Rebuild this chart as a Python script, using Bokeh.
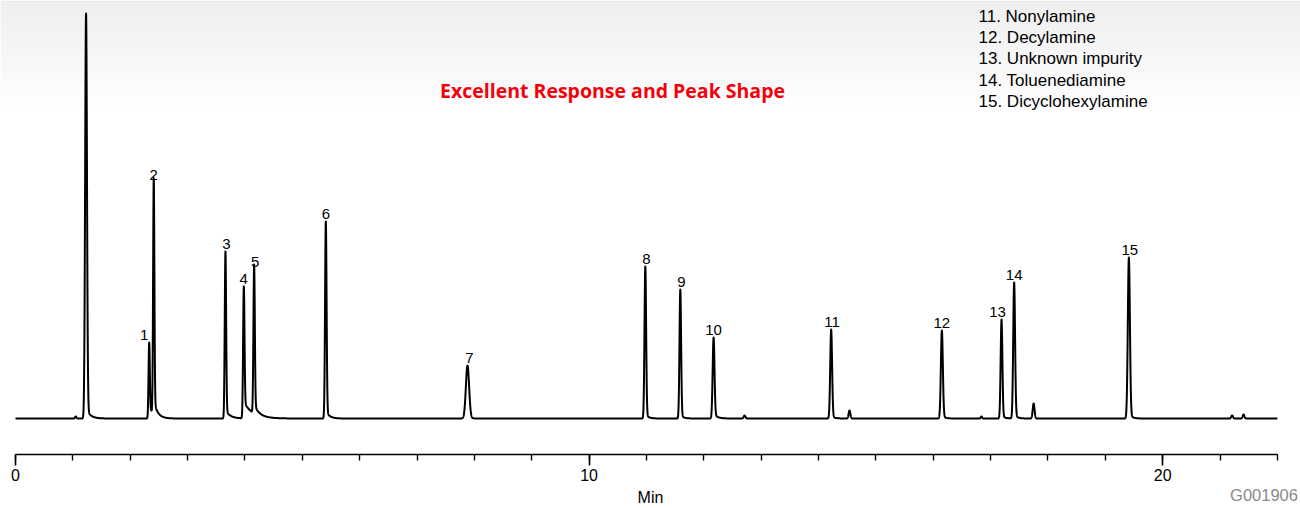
import numpy as np
from bokeh.plotting import figure
from bokeh.models import Range1d, FixedTicker, Label, BoxAnnotation, ColumnDataSource, LinearAxis
from bokeh.core.properties import value
from bokeh.embed import file_html
from bokeh.resources import INLINE

# ---------------- data ----------------
peak_labels = ["1", "2", "3", "4", "5", "6", "7", "8", "9", "10", "11", "12", "13", "14", "15"]
peak_rt = [2.33, 2.41, 3.66, 3.98, 4.16, 5.41, 7.88, 10.98, 11.59, 12.17, 14.22, 16.15, 17.19, 17.41, 19.41]
peak_height = [76, 236, 167, 132, 149, 197, 53, 152, 129, 81, 89, 88, 99, 136, 161]
peak_sigma = [0.011, 0.011, 0.012, 0.012, 0.012, 0.013, 0.028, 0.014, 0.014, 0.016, 0.016, 0.017, 0.015, 0.016, 0.018]
peak_tail_frac = [0.15, 0.06, 0.05, 0.12, 0.06, 0.04, 0.02, 0.03, 0.03, 0.06, 0.03, 0.03, 0.03, 0.03, 0.03]
peak_tail_tau = [0.08, 0.06, 0.08, 0.15, 0.08, 0.06, 0.05, 0.05, 0.05, 0.06, 0.05, 0.05, 0.05, 0.05, 0.05]

# unlabelled peaks: solvent front and small impurities
other_rt = [1.05, 1.23, 12.71, 14.54, 16.84, 17.75, 21.21, 21.41]
other_height = [2, 405, 3, 8, 2, 15, 3, 4]
other_sigma = [0.012, 0.016, 0.015, 0.015, 0.012, 0.016, 0.015, 0.015]
other_tail_frac = [0.0, 0.025, 0.0, 0.0, 0.0, 0.0, 0.0, 0.0]
other_tail_tau = [0.05, 0.07, 0.05, 0.05, 0.05, 0.05, 0.05, 0.05]

legend_numbers = ["11.", "12.", "13.", "14.", "15."]
legend_names = ["Nonylamine", "Decylamine", "Unknown impurity", "Toluenediamine", "Dicyclohexylamine"]

x_ticks = [0, 10, 20]
x_minor_ticks = list(range(0, 23))
run_end = 22.0

title_text = "Excellent Response and Peak Shape"
x_label = "Min"
code_text = "G001906"

# ---------------- build trace ----------------
t = np.arange(0.0, run_end + 1e-9, 0.002)


def peak_shape(tt, rt, h, s, a, tau):
    d = tt - rt
    core = np.exp(-0.5 * (d / s) ** 2)
    step = 1.0 / (1.0 + np.exp(-np.clip(2.0 * d / s, -60, 60)))
    tail = np.exp(-np.clip(d, 0, None) / tau) * step
    y = (1 - a) * core + a * tail
    return h * y / y.max()


signal = np.zeros_like(t)
for rt, h, s, a, tau in zip(peak_rt, peak_height, peak_sigma, peak_tail_frac, peak_tail_tau):
    signal += peak_shape(t, rt, h, s, a, tau)
for rt, h, s, a, tau in zip(other_rt, other_height, other_sigma, other_tail_frac, other_tail_tau):
    signal += peak_shape(t, rt, h, s, a, tau)

# ---------------- figure ----------------
W, H = 1300, 508
PX_PER_MIN = 57.36
X0 = 15          # pixel of t = 0
BASE = 418       # pixel of the baseline
FRAME_BOTTOM = 454

p = figure(
    width=W, height=H,
    output_backend="svg", toolbar_location=None,
    x_range=Range1d(-X0 / PX_PER_MIN, (W - X0) / PX_PER_MIN),
    y_range=Range1d(-(FRAME_BOTTOM - BASE), BASE),
    min_border_left=0, min_border_right=0, min_border_top=0,
    min_border_bottom=H - FRAME_BOTTOM,
)
p.outline_line_color = None
p.background_fill_color = "white"
p.border_fill_color = "white"
p.xgrid.visible = False
p.ygrid.visible = False
p.yaxis.visible = False

# soft grey gradient at the top
steps = 55
for i in range(steps):
    y0 = i * 2
    g = int(round(236 + (255 - 236) * (y0 / (steps * 2))))
    col = "#%02x%02x%02x" % (g, g, g)
    p.add_layout(BoxAnnotation(top=BASE - y0, bottom=BASE - y0 - 2, fill_color=col, fill_alpha=1.0,
                               line_color=None, level="underlay"))

# main time axis: ticks and tick labels
ax = p.xaxis[0]
ax.bounds = (0, run_end)
ax.ticker = FixedTicker(ticks=x_ticks, minor_ticks=x_minor_ticks)
ax.axis_line_color = "black"
ax.axis_line_width = 1.6
ax.major_tick_line_color = "black"
ax.major_tick_line_width = 1.6
ax.minor_tick_line_color = "black"
ax.minor_tick_line_width = 1.4
ax.major_tick_out = 11
ax.major_tick_in = 0
ax.minor_tick_out = 6
ax.minor_tick_in = 0
ax.major_label_standoff = 3
ax.major_label_text_font = "Liberation Sans"
ax.major_label_text_font_size = "16px"
ax.major_label_text_color = "black"

# second row under the axis: axis title "Min" and the figure code at the right
code_pos = (1263.5 - X0) / PX_PER_MIN
ax2 = LinearAxis(
    ticker=FixedTicker(ticks=[code_pos], minor_ticks=[]),
    major_label_overrides={code_pos: code_text},
    axis_line_color=None,
    major_tick_out=0, major_tick_in=0, minor_tick_out=0, minor_tick_in=0,
    major_label_standoff=2,
    major_label_text_font="Liberation Sans",
    major_label_text_font_size="16.5px",
    major_label_text_color="#8a8a8a",
    axis_label=x_label,
    axis_label_standoff=-18,
    axis_label_text_font="Liberation Sans",
    axis_label_text_font_style="normal",
    axis_label_text_font_size="16px",
    axis_label_text_color="black",
)
p.add_layout(ax2, "below")

# chromatogram trace
p.line(t, signal, line_color="black", line_width=2, line_join="round")

# peak numbers
label_dx = [-5, 0, 1, 0, 1, 0, 2, 1, 1, 0, 1, 0, -4, 0, 1]
src = ColumnDataSource(dict(x=peak_rt, y=peak_height, text=peak_labels, dx=label_dx))
p.text(x="x", y="y", text="text", x_offset="dx", y_offset=-3, source=src,
       text_align="center", text_baseline="bottom",
       text_font=value("Liberation Sans"), text_font_size="15px", text_color="black")

# compound list (top right)
legend_text = [n + " " + c for n, c in zip(legend_numbers, legend_names)]
leg_x = [(978 - X0) / PX_PER_MIN] * len(legend_text)
leg_y = [BASE - (16 + 21.2 * i) for i in range(len(legend_text))]
p.text(x=leg_x, y=leg_y, text=legend_text, text_align="left", text_baseline="middle",
       text_font=value("Liberation Sans"), text_font_size="17px", text_color="black")

# red headline
p.add_layout(Label(x=(612 - X0) / PX_PER_MIN, y=BASE - 90, text=title_text,
                   text_align="center", text_baseline="middle",
                   text_font="Open Sans", text_font_style="bold", text_font_size="19.5px",
                   text_color="#f5000a"))

open("out.html", "w").write(file_html(p, INLINE))
